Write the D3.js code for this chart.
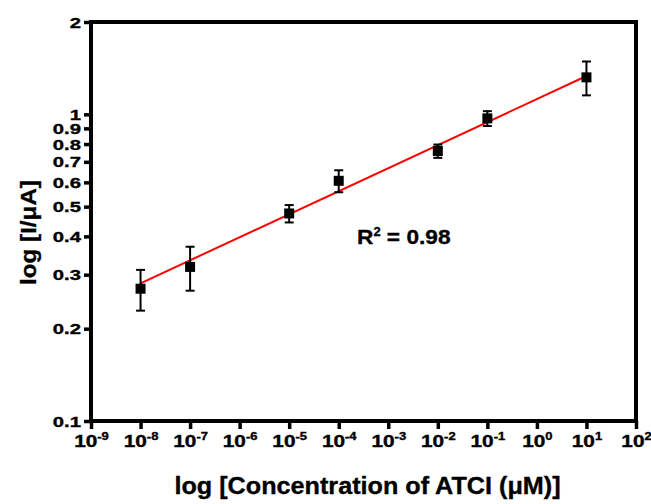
<!DOCTYPE html>
<html>
<head>
<meta charset="utf-8">
<script src="https://cdn.jsdelivr.net/npm/d3@7/dist/d3.min.js"></script>
<style>
  html, body { margin: 0; padding: 0; background: #fff; }
  svg { display: block; font-family: Arial, "Liberation Sans", sans-serif; font-weight: bold; }
  text { stroke: #000; stroke-width: 0.35px; }
</style>
</head>
<body>
<svg id="chart" width="651" height="504"></svg>
<script>
// ATCI concentration (µM) and measured current (µA) with standard deviations
const concentrations = [1e-8, 1e-7, 1e-5, 1e-4, 1e-2, 1e-1, 1e1];
const currents       = [0.270, 0.318, 0.475, 0.607, 0.759, 0.970, 1.320];
const errors         = [0.041, 0.052, 0.031, 0.050, 0.038, 0.054, 0.167];

// Linear fit in log-log space: log10(I) = fitIntercept + fitSlope * log10(C)
const fitSlope = 0.0751;
const fitIntercept = 0.0498;
const fitRange = [1e-8, 1e1];
const rSquared = "0.98";

// Axis ticks
const xTickExponents = [-9, -8, -7, -6, -5, -4, -3, -2, -1, 0, 1, 2];
const yTickValues = [0.1, 0.2, 0.3, 0.4, 0.5, 0.6, 0.7, 0.8, 0.9, 1, 2];

const svg = d3.select("#chart");
const margin = { left: 91, right: 15, top: 22, bottom: 83 };
const width = 651, height = 504;
const x0 = margin.left, x1 = width - margin.right;
const y0 = height - margin.bottom, y1 = margin.top;

const x = d3.scaleLog().domain([1e-9, 1e2]).range([x0, x1]);
const y = d3.scaleLog().domain([0.1, 2]).range([y0, y1]);

const axisW = 4;
const stretch = 1.35; // horizontal widening of tick label glyphs

// Fitted line
const fitPts = fitRange.map(c => [c, Math.pow(10, fitIntercept + fitSlope * Math.log10(c))]);
svg.append("path")
  .attr("d", d3.line().x(d => x(d[0])).y(d => y(d[1]))(fitPts))
  .attr("stroke", "#ff0000").attr("stroke-width", 2).attr("fill", "none");

// Error bars
const data = concentrations.map((c, i) => ({ c, v: currents[i], e: errors[i] }));
const eb = svg.append("g").attr("stroke", "#000").attr("stroke-width", 2).attr("fill", "none");
data.forEach(d => {
  const cx = x(d.c), top = y(d.v + d.e), bot = y(d.v - d.e);
  eb.append("line").attr("x1", cx).attr("x2", cx).attr("y1", top).attr("y2", bot);
  eb.append("line").attr("x1", cx - 4.5).attr("x2", cx + 4.5).attr("y1", top).attr("y2", top);
  eb.append("line").attr("x1", cx - 4.5).attr("x2", cx + 4.5).attr("y1", bot).attr("y2", bot);
});

// Markers
const ms = 10;
svg.append("g").selectAll("rect").data(data).join("rect")
  .attr("x", d => x(d.c) - ms / 2).attr("y", d => y(d.v) - ms / 2)
  .attr("width", ms).attr("height", ms).attr("fill", "#000");

// Frame
svg.append("rect")
  .attr("x", x0).attr("y", y1).attr("width", x1 - x0).attr("height", y0 - y1)
  .attr("fill", "none").attr("stroke", "#000").attr("stroke-width", axisW);

// X axis
const xAxis = svg.append("g").attr("transform", `translate(0,${y0})`)
  .call(d3.axisBottom(x).tickValues(xTickExponents.map(e => Math.pow(10, e))).tickSize(8).tickFormat(""));
xAxis.select(".domain").remove();
xAxis.attr("font-family", null).attr("font-size", null);
xAxis.selectAll(".tick line").attr("stroke", "#000").attr("stroke-width", 3.5);
xAxis.selectAll(".tick").each(function(v) {
  const g = d3.select(this).append("g").attr("transform", `translate(0,26) scale(1.3,1)`);
  const t = g.append("text")
    .attr("fill", "#000").attr("text-anchor", "middle")
    .style("font-size", "16px");
  t.append("tspan").text("10");
  t.append("tspan").attr("dy", -7).style("font-size", "10px").text(String(Math.round(Math.log10(v))));
});

// Y axis
const yAxis = svg.append("g").attr("transform", `translate(${x0},0)`)
  .call(d3.axisLeft(y).tickValues(yTickValues).tickSize(7).tickPadding(3)
    .tickFormat(d => String(d)));
yAxis.select(".domain").remove();
yAxis.attr("font-family", null).attr("font-size", null);
yAxis.selectAll(".tick line").attr("stroke", "#000").attr("stroke-width", 3.5);
yAxis.selectAll(".tick text")
  .attr("x", null)
  .attr("dy", "0.34em")
  .attr("transform", `translate(-10,0) scale(${stretch},1)`)
  .attr("fill", "#000")
  .style("font-size", "15px");

// R² annotation
const r2 = svg.append("text")
  .attr("transform", "translate(357,244) scale(1.08,1)")
  .attr("fill", "#000").style("font-size", "21px");
r2.append("tspan").text("R");
r2.append("tspan").attr("dy", -8).style("font-size", "12px").text("2");
r2.append("tspan").attr("dy", 8).text(" = " + rSquared);

// Axis titles
svg.append("text")
  .attr("transform", `translate(${(x0 + x1) / 2 + 4},494) scale(1.05,1)`)
  .attr("text-anchor", "middle")
  .attr("fill", "#000").style("font-size", "24px")
  .text("log [Concentration of ATCI (μM)]");
svg.append("text")
  .attr("transform", `translate(36,${(y0 + y1) / 2 + 11}) rotate(-90) scale(1.1,1)`)
  .attr("text-anchor", "middle")
  .attr("fill", "#000").style("font-size", "22px")
  .text("log [I/μA]");
</script>
</body>
</html>
